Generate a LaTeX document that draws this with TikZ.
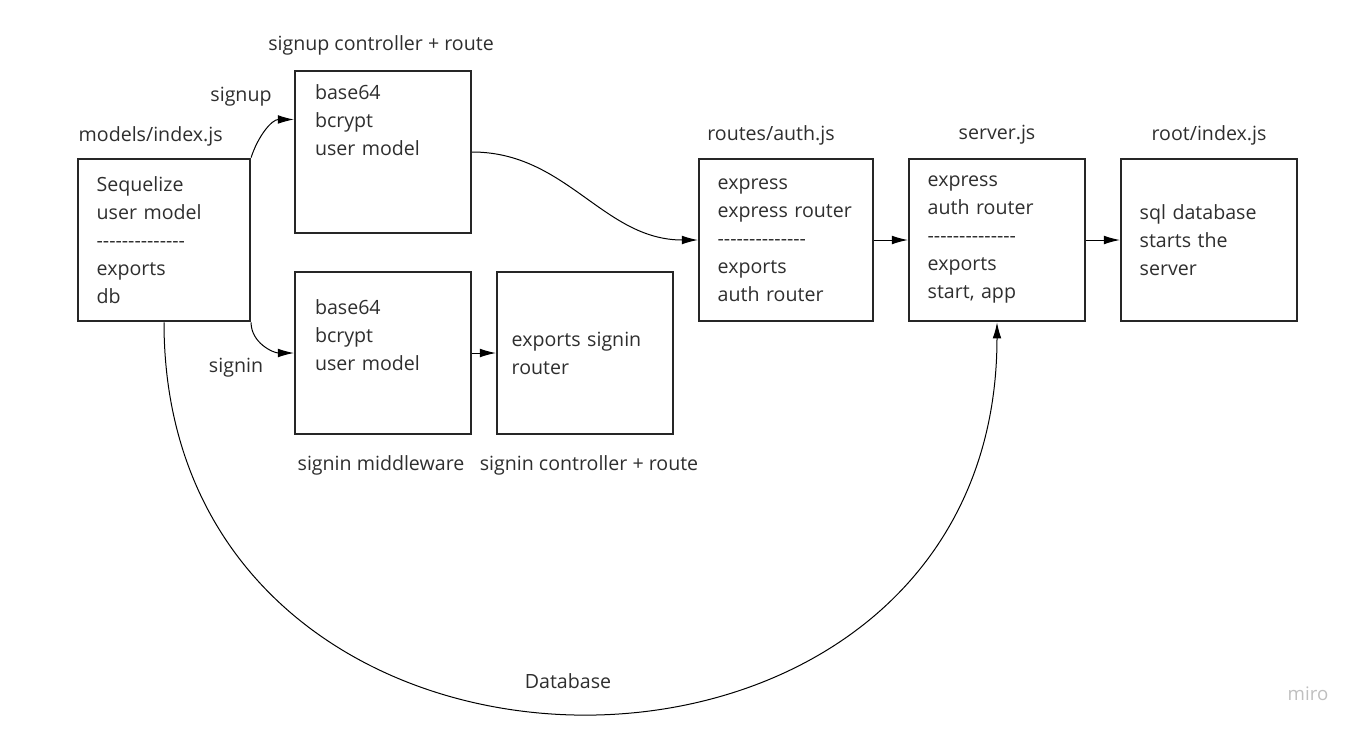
\documentclass[tikz,border=0pt]{standalone}
\usepackage{fontspec}
\setmainfont{Open Sans}
\usetikzlibrary{arrows.meta}
\newcommand{\dashrow}{\foreach \k in {1,...,14}{-\kern0pt}}

\begin{document}
\begin{tikzpicture}[x=0.75pt,y=-0.75pt,
    every node/.style={font=\fontsize{14.7}{21}\selectfont, text=black!82},
    box/.style={draw=black!85, line width=1.6pt, minimum height=122pt,
      text width=104pt, inner xsep=14pt, align=left},
    link/.style={line width=0.75pt, -{Latex[length=12pt,width=6.5pt]}}]
  \useasboundingbox (0,0) rectangle (1363,733);

  % boxes
  \node[box, text width=101pt] (models) at (164,240)
    {Sequelize\\user model\\\dashrow\\exports\\db};
  \node[box, inner xsep=15pt, text width=102pt] (signup) at (383,152)
    {base64\\bcrypt\\user model\\ \strut\\ \strut};
  \node[box, inner xsep=15pt, text width=102pt] (mw) at (383,353)
    {base64\\bcrypt\\user model\\ \strut};
  \node[box, inner xsep=11pt, text width=110pt] (ctrl) at (585,353)
    {exports signin\\router};
  \node[box, text width=102.5pt] (auth) at (786,240)
    {express\\express router\\\dashrow\\exports\\auth router};
  \node[box] (server) at (997,240)
    {express\\auth router\\\dashrow\\exports\\start, app};
  \node[box] (root) at (1209,240)
    {sql database\\starts the\\server};

  % titles and labels
  \node (signuptitle) at (381,45) {signup controller + route};
  \node[anchor=west] (modelstitle) at (74,136) {models/index.js};
  \node (signuplbl) at (241,97) {signup};
  \node (signinlbl) at (236,368) {signin};
  \node (mwtitle) at (381,465) {signin middleware};
  \node (ctrltitle) at (589,465) {signin controller + route};
  \node (authtitle) at (771,135) {routes/auth.js};
  \node (servertitle) at (997,135) {server.js};
  \node (roottitle) at (1209,135) {root/index.js};
  \node (dblbl) at (568,681) {Database};
  \node[font=\fontsize{14}{16}\selectfont, text=black!25] (miro) at (1308,694) {miro};

  % connectors
  \draw[link] (models.north east) to[out=72,in=180] ([yshift=24.4pt]signup.west);
  \draw[link] (models.south east) to[out=-90,in=180] (mw.west);
  \draw[link] (mw) -- (ctrl);
  \draw[link] (signup.east) to[out=0,in=180] (auth.west);
  \draw[link] (auth) -- (server);
  \draw[link] (server) -- (root);
  \draw[link] (models.south) .. controls +(0,521) and +(0,521) .. (server.south);
\end{tikzpicture}
\end{document}
